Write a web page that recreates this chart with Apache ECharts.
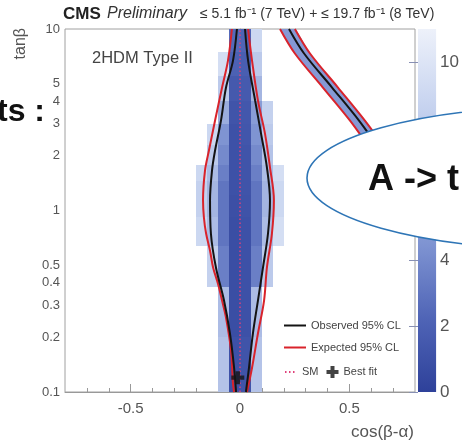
<!DOCTYPE html>
<html>
<head>
<meta charset="utf-8">
<script src="https://cdn.jsdelivr.net/npm/echarts@6/dist/echarts.min.js"></script>
<style>
  html, body { margin: 0; padding: 0; background: #fff; }
  #chart { width: 462px; height: 447px; }
</style>
</head>
<body>
<div id="chart"></div>
<script>
// cos(beta-alpha) bin edges of the likelihood scan
const cosEdges = [-0.25, -0.2, -0.15, -0.1, -0.05, 0, 0.05, 0.1, 0.15, 0.2, 0.25];
// tan(beta) bin edges, bottom to top
const tanbEdges = [0.1, 0.2, 0.38, 0.64, 0.92, 1.21, 1.46, 1.77, 2.3, 3, 4, 5.5, 7.5, 10];
// -2 ΔlnL per bin, one row per tan(beta) bin (bottom to top), null = not scanned
const scanRows = [
  [null, null, null, 7.5, 1.0, 1.2, 7.5, null, null, null],
  [null, null, null, 7.0, 0.8, 1.0, 7.0, null, null, null],
  [null, null, 8.5, 3.5, 0.8, 1.0, 3.5, 8.0, null, null],
  [null, 9.0, 7.0, 3.0, 0.8, 1.0, 3.0, 7.0, 9.5, null],
  [null, 8.5, 6.5, 3.0, 0.9, 1.1, 3.0, 6.5, 9.0, null],
  [null, 8.5, 6.5, 3.0, 1.0, 1.2, 3.0, 6.5, 9.0, null],
  [null, 9.0, 7.0, 3.5, 1.0, 1.2, 3.5, 7.0, 9.5, null],
  [null, null, 8.0, 4.0, 1.0, 1.2, 4.0, 7.5, null, null],
  [null, null, 9.0, 4.5, 1.0, 1.3, 4.5, 8.0, null, null],
  [null, null, null, 6.0, 1.2, 1.4, 5.0, 8.5, null, null],
  [null, null, null, 8.0, 1.5, 1.6, 6.5, null, null, null],
  [null, null, null, 9.5, 2.0, 1.8, 8.0, null, null, null],
  [null, null, null, null, 2.5, 2.2, 9.0, null, null, null]
];

// palette of the -2 ΔlnL scale, from 0 (dark) to the top of the bar (light)
const scaleColors = ['#2e419a', '#4f64b6', '#7d92d1', '#a6b7e2', '#c9d5f0', '#edf1fa'];
const scaleMax = 11;
const scaleTicks = [0, 2, 4, 6, 8, 10];

// 95% CL contours, [cos(beta-alpha), tan(beta)]
const expLeft = [[-0.037, 10], [-0.055, 6.7], [-0.082, 4.76], [-0.114, 3.13], [-0.142, 2.14], [-0.160, 1.66],
  [-0.169, 1.14], [-0.165, 0.915], [-0.155, 0.747], [-0.137, 0.60], [-0.123, 0.485], [-0.101, 0.396],
  [-0.082, 0.319], [-0.064, 0.257], [-0.041, 0.169], [-0.032, 0.111], [-0.027, 0.1]];
const expRight = [[0.037, 10], [0.055, 6.7], [0.082, 4.04], [0.114, 2.66], [0.137, 1.73], [0.155, 1.14],
  [0.146, 0.747], [0.123, 0.485], [0.110, 0.319], [0.082, 0.21], [0.055, 0.136], [0.032, 0.1]];
const obsLeft = [[-0.014, 10], [-0.032, 6.7], [-0.064, 4.76], [-0.087, 3.13], [-0.114, 2.14], [-0.128, 1.66],
  [-0.137, 1.14], [-0.133, 0.747], [-0.11, 0.485], [-0.073, 0.319], [-0.046, 0.21], [-0.027, 0.136], [-0.018, 0.1]];
const obsRight = [[0.023, 10], [0.037, 6.7], [0.069, 4.04], [0.096, 2.66], [0.123, 1.73], [0.137, 1.14],
  [0.128, 0.747], [0.105, 0.485], [0.082, 0.319], [0.059, 0.21], [0.041, 0.136], [0.027, 0.1]];
// wrong-sign branch
const bandExpLeft = [[0.183, 10], [0.251, 7.33], [0.379, 4.76], [0.503, 3.13], [0.64, 1.88], [0.78, 1.29]];
const bandExpRight = [[0.251, 10], [0.32, 7.33], [0.448, 4.76], [0.571, 3.13], [0.709, 1.88], [0.8, 1.46]];
const bandObs = [[0.224, 10], [0.293, 7.33], [0.421, 4.76], [0.544, 3.13], [0.681, 1.88], [0.8, 1.36]];

const smLine = [[0, 0.1], [0, 10]];
const bestFit = [[-0.01, 0.12]];

// axis ticks and labels
const xLabels = [-0.5, 0, 0.5];
const xMinorTicks = [-0.7, -0.6, -0.4, -0.3, -0.2, -0.1, 0.1, 0.2, 0.3, 0.4, 0.6, 0.7];
const yLabels = [0.1, 0.2, 0.3, 0.4, 0.5, 1, 2, 3, 4, 5, 10];
const yMajorTicks = [0.1, 1, 10];
const yMinorTicks = [0.2, 0.3, 0.4, 0.5, 0.6, 0.7, 0.8, 0.9, 2, 3, 4, 5, 6, 7, 8, 9];

const FONT = "'Liberation Sans', Arial, sans-serif";

// cells: [x0, x1, t0, t1, value]
const cells = [];
scanRows.forEach((row, r) => {
  row.forEach((v, c) => {
    if (v != null) cells.push([cosEdges[c], cosEdges[c + 1], tanbEdges[r], tanbEdges[r + 1], v]);
  });
});

const bandOutline = bandExpLeft.concat(bandExpRight.slice().reverse());

const chart = echarts.init(document.getElementById('chart'), null, { renderer: 'canvas' });

const RED = '#d9232b';
const BLACK = '#141414';
const SM_COLOR = '#e0407a';

function contour(name, data, color) {
  return {
    name, type: 'line', data, smooth: 0.35, symbol: 'none', clip: true,
    lineStyle: { color, width: 2 }, itemStyle: { color }, z: 5
  };
}

// line entries in the legend show the stroke only
const lineEntry = name => ({ name, itemStyle: { opacity: 0 } });

const option = {
  animation: false,
  textStyle: { fontFamily: FONT },
  grid: [
    { left: 65, top: 29, width: 350, height: 363, show: true, borderColor: '#a0a0a0', borderWidth: 1 },
    { left: 418, top: 29, width: 20, height: 363 }
  ],
  xAxis: [
    {
      type: 'value', gridIndex: 0, min: -0.8, max: 0.8,
      axisLine: { lineStyle: { color: '#999' } },
      axisTick: { show: true, inside: true, length: 8, customValues: xLabels, lineStyle: { color: '#999' } },
      axisLabel: { customValues: xLabels, formatter: v => String(v), fontSize: 15, color: '#555', margin: 9 },
      splitLine: { show: false }
    },
    {
      type: 'value', gridIndex: 0, min: -0.8, max: 0.8, position: 'bottom',
      axisLine: { show: false },
      axisTick: { show: true, inside: true, length: 4, customValues: xMinorTicks, lineStyle: { color: '#999' } },
      axisLabel: { show: false }, splitLine: { show: false }
    },
    { type: 'value', gridIndex: 1, min: 0, max: 1, show: false }
  ],
  yAxis: [
    {
      type: 'log', logBase: 10, gridIndex: 0, min: 0.1, max: 10,
      axisLine: { show: true, lineStyle: { color: '#999' } },
      axisTick: { show: true, inside: true, length: 10, customValues: yMajorTicks, lineStyle: { color: '#999' } },
      axisLabel: { customValues: yLabels, formatter: v => String(v), fontSize: 13, color: '#555', margin: 5 },
      splitLine: { show: false }, minorTick: { show: false }
    },
    {
      type: 'log', logBase: 10, gridIndex: 0, min: 0.1, max: 10, position: 'left',
      axisLine: { show: false },
      axisTick: { show: true, inside: true, length: 5, customValues: yMinorTicks, lineStyle: { color: '#999' } },
      axisLabel: { show: false }, splitLine: { show: false }, minorTick: { show: false }
    },
    {
      type: 'value', gridIndex: 1, min: 0, max: scaleMax, position: 'right',
      axisLine: { show: false },
      axisTick: { show: true, inside: true, length: 9, customValues: scaleTicks, lineStyle: { color: '#8890b4' } },
      axisLabel: { customValues: scaleTicks, fontSize: 17, color: '#555', margin: 4 },
      splitLine: { show: false }
    }
  ],
  visualMap: {
    type: 'continuous', show: false, seriesIndex: 0, dimension: 4,
    min: 0, max: scaleMax, inRange: { color: scaleColors }
  },
  legend: [
    {
      data: [lineEntry('Observed 95% CL'), lineEntry('Expected 95% CL')],
      orient: 'vertical', left: 278, top: 315,
      itemWidth: 22, itemHeight: 10, itemGap: 11,
      textStyle: { fontSize: 11, color: '#444', fontFamily: FONT }
    },
    {
      data: [lineEntry('SM'), { name: 'Best fit' }],
      orient: 'horizontal', left: 279, top: 361,
      itemWidth: 12, itemHeight: 12, itemGap: 8,
      textStyle: { fontSize: 11, color: '#444', fontFamily: FONT }
    }
  ],
  series: [
    {
      // likelihood scan cells
      type: 'custom', xAxisIndex: 0, yAxisIndex: 0, data: cells, clip: true, z: 1,
      encode: { x: [0, 1], y: [2, 3] },
      renderItem(params, api) {
        const a = api.coord([api.value(0), api.value(3)]);
        const b = api.coord([api.value(1), api.value(2)]);
        const x = Math.round(a[0]), y = Math.round(a[1]);
        return {
          type: 'rect',
          shape: { x, y, width: Math.round(b[0]) - x, height: Math.round(b[1]) - y },
          style: { fill: api.visual('color') }
        };
      }
    },
    {
      // wrong-sign allowed branch
      type: 'custom', xAxisIndex: 0, yAxisIndex: 0, data: [bandOutline[0]], clip: true, z: 1,
      renderItem(params, api) {
        const pts = bandOutline.map(p => api.coord(p));
        return { type: 'polygon', shape: { points: pts, smooth: 0.2 }, style: { fill: '#8599d5' } };
      }
    },
    {
      name: 'SM', type: 'line', data: smLine, symbol: 'none', z: 4,
      lineStyle: { color: SM_COLOR, width: 1.5, type: [1.5, 2.5] }, itemStyle: { color: SM_COLOR }
    },
    contour('Expected 95% CL', expLeft, RED),
    contour('Expected 95% CL', expRight, RED),
    contour('Expected 95% CL', bandExpLeft, RED),
    contour('Expected 95% CL', bandExpRight, RED),
    contour('Observed 95% CL', obsLeft, BLACK),
    contour('Observed 95% CL', obsRight, BLACK),
    contour('Observed 95% CL', bandObs, BLACK),
    {
      name: 'Best fit', type: 'scatter', data: bestFit, z: 6,
      symbol: 'path://M-1,-3H1V-1H3V1H1V3H-1V1H-3V-1H-1Z', symbolSize: 13,
      itemStyle: { color: BLACK }
    },
    {
      // colour scale bar
      type: 'custom', xAxisIndex: 2, yAxisIndex: 2, data: [[0, 0]], z: 1,
      renderItem(params, api) {
        const top = api.coord([0, scaleMax]);
        const bottom = api.coord([1, 0]);
        const n = scaleColors.length;
        const stops = scaleColors.map((c, i) => ({ offset: 1 - i / (n - 1), color: c }));
        return {
          type: 'rect',
          shape: { x: top[0], y: top[1], width: bottom[0] - top[0], height: bottom[1] - top[1] },
          style: { fill: new echarts.graphic.LinearGradient(0, 0, 0, 1, stops) }
        };
      }
    }
  ],
  graphic: [
    { type: 'text', x: 63, y: 14, z: 20, style: { text: 'CMS', font: `bold 17px ${FONT}`, fill: '#222', verticalAlign: 'middle' } },
    { type: 'text', x: 107, y: 14, z: 20, style: { text: 'Preliminary', font: `italic 16px ${FONT}`, fill: '#333', verticalAlign: 'middle' } },
    { type: 'text', x: 200, y: 14, z: 20, style: { text: '≤ 5.1 fb⁻¹ (7 TeV) + ≤ 19.7 fb⁻¹ (8 TeV)', font: `14px ${FONT}`, fill: '#333', verticalAlign: 'middle' } },
    { type: 'text', x: 92, y: 58, z: 20, style: { text: '2HDM Type II', font: `16.5px ${FONT}`, fill: '#444', verticalAlign: 'middle' } },
    {
      type: 'text', x: 21, y: 28, rotation: Math.PI / 2, z: 20,
      style: { text: 'tanβ', font: `16px ${FONT}`, fill: '#555', align: 'right', verticalAlign: 'middle' }
    },
    {
      type: 'text', x: 414, y: 432, z: 20,
      style: { text: 'cos(β-α)', font: `17px ${FONT}`, fill: '#555', align: 'right', verticalAlign: 'middle' }
    },
    {
      type: 'ellipse', z: 100, shape: { cx: 560, cy: 178, rx: 253, ry: 71 },
      style: { fill: '#fff', stroke: '#2e75b6', lineWidth: 1.6 }
    },
    {
      type: 'text', x: 368, y: 180, z: 101,
      style: { text: 'A -> t', font: `bold 36px ${FONT}`, fill: '#111', verticalAlign: 'middle' }
    },
    {
      type: 'text', x: -3, y: 112, z: 101,
      style: { text: 'ts :', font: `bold 32px ${FONT}`, fill: '#111', verticalAlign: 'middle' }
    }
  ]
};

chart.setOption(option);
</script>
</body>
</html>
